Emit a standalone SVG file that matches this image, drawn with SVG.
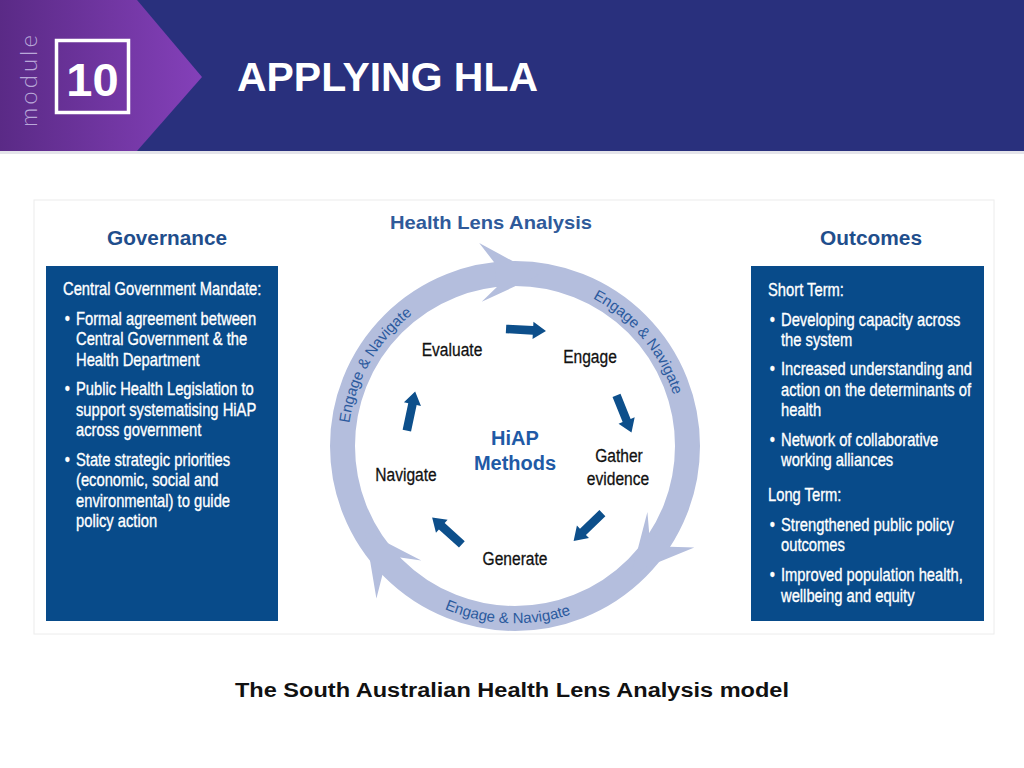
<svg xmlns="http://www.w3.org/2000/svg" xmlns:xlink="http://www.w3.org/1999/xlink" width="1024" height="768" viewBox="0 0 1024 768">
<defs>
<linearGradient id="pg" x1="0" y1="0" x2="1" y2="0">
<stop offset="0" stop-color="#5a2a86"/>
<stop offset="1" stop-color="#8440b9"/>
</linearGradient>
<path id="blk" d="M-20,-4.3 L7,-4.3 L7,-8.7 L20,0 L7,8.7 L7,4.3 L-20,4.3 Z"/>
<path id="arcUL" d="M350.5,475 A166,166 0 0,1 457.9,289.1"/>
<path id="arcUR" d="M544,281.5 A166,166 0 0,1 681,446"/>
<path id="arcB" d="M400.6,582.4 A181,181 0 0,0 617.1,591.8"/>
<style>
.narrow{font-family:"Liberation Sans",Arial,sans-serif}
.box{fill:#084b8a}
.bt{fill:#ffffff;font-size:18px;stroke:#ffffff;stroke-width:0.35}
.lbl{fill:#111111;font-size:19px;font-family:"Liberation Sans",Arial,sans-serif;text-anchor:middle;stroke:#111111;stroke-width:0.3}
.head{fill:#1f4e8c;font-family:"Liberation Sans",Arial,sans-serif;font-weight:bold;font-size:20px}
.ring{fill:none;stroke:#b4bedd;stroke-width:25}
.rh{fill:#b4bedd}
.rt{fill:#2b5a9e;font-family:"Liberation Sans",Arial,sans-serif;font-size:15px}
.ia{fill:#0d4f8b}
</style>
</defs>
<rect width="1024" height="768" fill="#ffffff"/>
<g id="header">
<rect x="0" y="0" width="1024" height="151" fill="#29307d"/>
<polygon points="0,0 137,0 202,77 137,151 0,151" fill="url(#pg)"/>
<rect x="0" y="151" width="1024" height="3" fill="#e4e4ea"/>
<text transform="translate(37,127) rotate(-90)" font-family="Lato,'Liberation Sans',sans-serif" font-weight="300" font-size="24" letter-spacing="3" fill="#b9a8d9">module</text>
<rect x="56.5" y="40.5" width="72" height="72" fill="none" stroke="#ffffff" stroke-width="3.5"/>
<text x="92.5" y="96" text-anchor="middle" font-family="'Liberation Sans',Arial,sans-serif" font-weight="bold" font-size="47" fill="#ffffff">10</text>
<text x="237" y="91" font-family="'Liberation Sans',Arial,sans-serif" font-weight="bold" font-size="40" fill="#ffffff" textLength="301" lengthAdjust="spacingAndGlyphs">APPLYING HLA</text>
</g>
<rect x="34" y="200" width="960" height="434" fill="none" stroke="#ececec" stroke-width="1"/>
<text x="491" y="229" text-anchor="middle" font-family="'Liberation Sans',Arial,sans-serif" font-weight="bold" font-size="19" fill="#2f5a9a" textLength="202" lengthAdjust="spacingAndGlyphs">Health Lens Analysis</text>
<text class="head" x="167" y="245" text-anchor="middle" textLength="120" lengthAdjust="spacingAndGlyphs">Governance</text>
<text class="head" x="871" y="245" text-anchor="middle" textLength="102" lengthAdjust="spacingAndGlyphs">Outcomes</text>
<g id="governance">
<rect class="box" x="46" y="266" width="232" height="355"/>
<g class="narrow" transform="translate(63,0) scale(0.82,1)">
<text class="bt" x="0" y="295">Central Government Mandate:</text>
<text class="bt" x="2" y="325">•</text><text class="bt" x="15.85" y="325">Formal agreement between</text>
<text class="bt" x="15.85" y="345">Central Government &amp; the</text>
<text class="bt" x="15.85" y="366">Health Department</text>
<text class="bt" x="2" y="395">•</text><text class="bt" x="15.85" y="395">Public Health Legislation to</text>
<text class="bt" x="15.85" y="416">support systematising HiAP</text>
<text class="bt" x="15.85" y="436">across government</text>
<text class="bt" x="2" y="466">•</text><text class="bt" x="15.85" y="466">State strategic priorities</text>
<text class="bt" x="15.85" y="486">(economic, social and</text>
<text class="bt" x="15.85" y="507">environmental) to guide</text>
<text class="bt" x="15.85" y="527">policy action</text>
</g>
</g>
<g id="outcomes">
<rect class="box" x="751" y="266" width="233" height="355"/>
<g class="narrow" transform="translate(768,0) scale(0.82,1)">
<text class="bt" x="0" y="296">Short Term:</text>
<text class="bt" x="2" y="326">•</text><text class="bt" x="15.85" y="326">Developing capacity across</text>
<text class="bt" x="15.85" y="346">the system</text>
<text class="bt" x="2" y="375">•</text><text class="bt" x="15.85" y="375">Increased understanding and</text>
<text class="bt" x="15.85" y="396">action on the determinants of</text>
<text class="bt" x="15.85" y="416">health</text>
<text class="bt" x="2" y="446">•</text><text class="bt" x="15.85" y="446">Network of collaborative</text>
<text class="bt" x="15.85" y="466">working alliances</text>
<text class="bt" x="0" y="501">Long Term:</text>
<text class="bt" x="2" y="531">•</text><text class="bt" x="15.85" y="531">Strengthened public policy</text>
<text class="bt" x="15.85" y="551">outcomes</text>
<text class="bt" x="2" y="581">•</text><text class="bt" x="15.85" y="581">Improved population health,</text>
<text class="bt" x="15.85" y="602">wellbeing and equity</text>
</g>
</g>
<g id="ring">
<circle class="ring" cx="515" cy="446" r="172.5"/>
<polygon class="rh" points="494.1,262.2 479.2,243.1 539,275.2 481.7,301.8 496.9,287"/>
<polygon class="rh" points="670.2,546.8 694.3,547.4 631.5,573.2 647.4,512 649.2,533.1"/>
<polygon class="rh" points="382.4,575 376.4,598.4 365.2,531.5 421.3,560.5 400.3,557.5"/>
<text class="rt"><textPath href="#arcUL" startOffset="50%" text-anchor="middle">Engage &amp; Navigate</textPath></text>
<text class="rt"><textPath href="#arcUR" startOffset="50%" text-anchor="middle">Engage &amp; Navigate</textPath></text>
<text class="rt"><textPath href="#arcB" startOffset="50%" text-anchor="middle">Engage &amp; Navigate</textPath></text>
</g>
<g id="methods">
<text x="515" y="445" text-anchor="middle" font-family="'Liberation Sans',Arial,sans-serif" font-weight="bold" font-size="20" fill="#1f5aa6">HiAP</text>
<text x="515" y="470" text-anchor="middle" font-family="'Liberation Sans',Arial,sans-serif" font-weight="bold" font-size="20" fill="#1f5aa6">Methods</text>
</g>
<g id="evaluate"><text class="lbl" transform="translate(452,356) scale(0.82,1)">Evaluate</text></g>
<g id="engage"><text class="lbl" transform="translate(590,363) scale(0.82,1)">Engage</text></g>
<g id="gather"><text class="lbl" transform="translate(619,462) scale(0.82,1)">Gather</text><text class="lbl" transform="translate(618,485) scale(0.82,1)">evidence</text></g>
<g id="generate"><text class="lbl" transform="translate(515,565) scale(0.82,1)">Generate</text></g>
<g id="navigate"><text class="lbl" transform="translate(406,481) scale(0.82,1)">Navigate</text></g>
<g id="connectors" class="ia">
<use href="#blk" transform="translate(526,330) rotate(3)"/>
<use href="#blk" transform="translate(624,414) rotate(68)"/>
<use href="#blk" transform="translate(588,527) rotate(136)"/>
<use href="#blk" transform="translate(447,531) rotate(-138)"/>
<use href="#blk" transform="translate(411,411) rotate(-78)"/>
</g>
<text x="512" y="697" text-anchor="middle" font-family="'Liberation Sans',Arial,sans-serif" font-weight="bold" font-size="20" fill="#111111" textLength="554" lengthAdjust="spacingAndGlyphs">The South Australian Health Lens Analysis model</text>
</svg>
